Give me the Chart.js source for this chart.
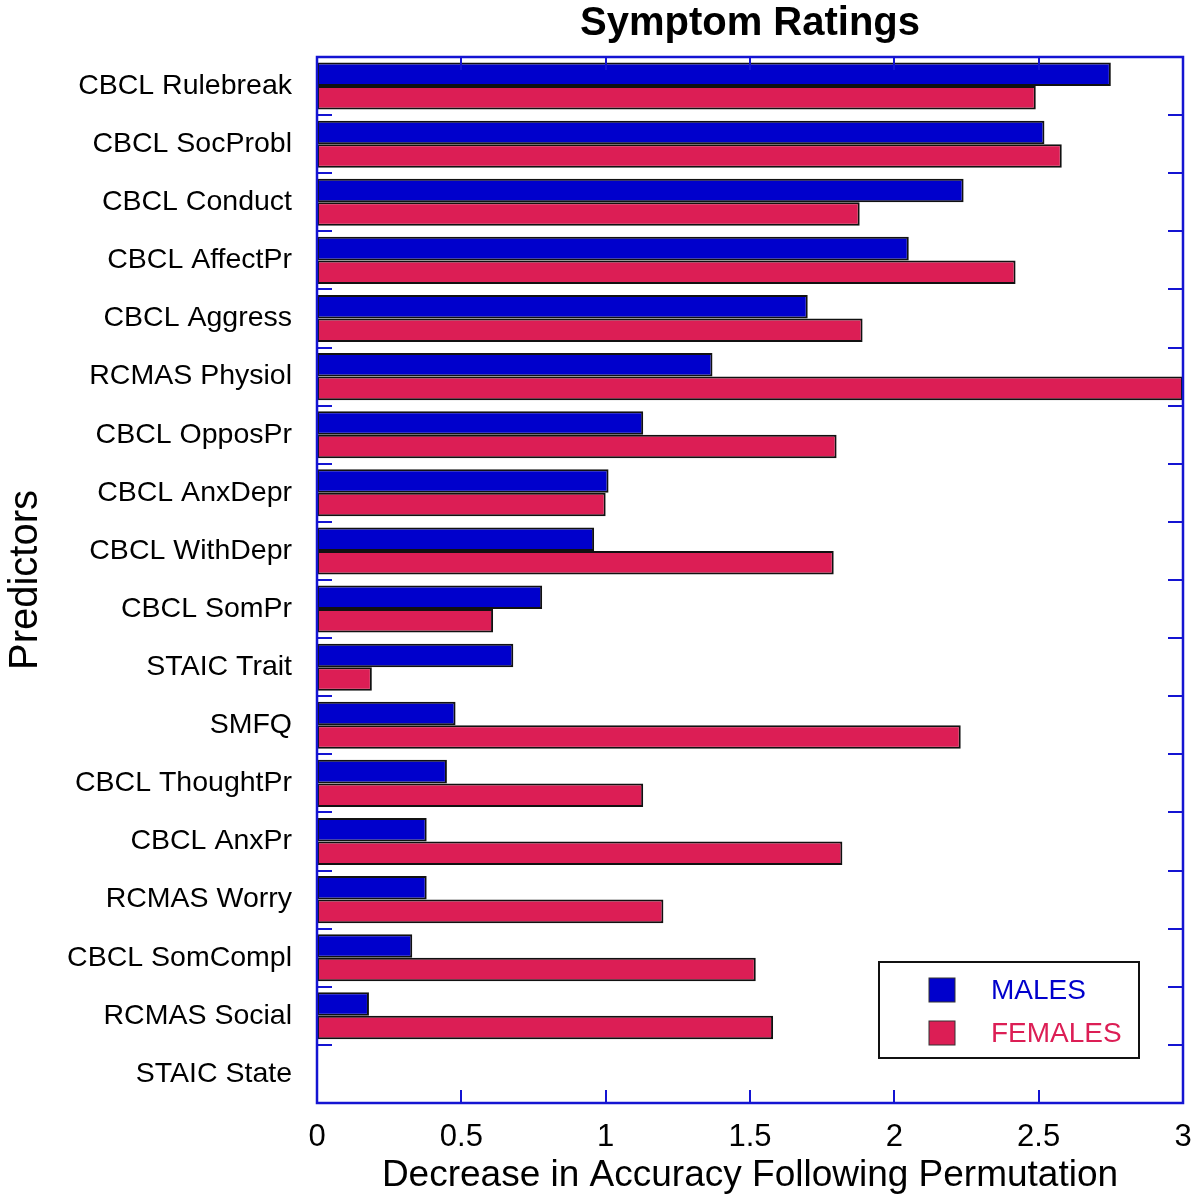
<!DOCTYPE html>
<html>
<head>
<meta charset="utf-8">
<script src="https://cdn.jsdelivr.net/npm/chart.js@4.4.1/dist/chart.umd.min.js"></script>
<style>
  html, body { margin: 0; padding: 0; background: #fff; }
  #wrap { width: 1200px; height: 1200px; }
</style>
</head>
<body>
<div id="wrap"><canvas id="symptomChart" width="1200" height="1200"></canvas></div>
<script>
// predictors, top to bottom
const predictors = [
  'CBCL Rulebreak', 'CBCL SocProbl', 'CBCL Conduct', 'CBCL AffectPr', 'CBCL Aggress',
  'RCMAS Physiol', 'CBCL OpposPr', 'CBCL AnxDepr', 'CBCL WithDepr', 'CBCL SomPr',
  'STAIC Trait', 'SMFQ', 'CBCL ThoughtPr', 'CBCL AnxPr', 'RCMAS Worry',
  'CBCL SomCompl', 'RCMAS Social', 'STAIC State'
];
const males = [2.75, 2.52, 2.24, 2.05, 1.70, 1.37, 1.13, 1.01, 0.96, 0.78,
               0.68, 0.48, 0.45, 0.38, 0.38, 0.33, 0.18, 0];
const females = [2.49, 2.58, 1.88, 2.42, 1.89, 3.0, 1.80, 1.00, 1.79, 0.61,
                 0.19, 2.23, 1.13, 1.82, 1.20, 1.52, 1.58, 0];
const xTickLabels = ['0', '0.5', '1', '1.5', '2', '2.5', '3'];

const axisBlue = '#1414d2';
const maleColor = '#0000cc';
const femaleColor = '#dc1e55';
const fontFam = '"Liberation Sans", Arial, sans-serif';

// frame, inward ticks on all four sides
const framePlugin = {
  id: 'frame',
  afterDatasetsDraw(chart) {
    const ctx = chart.ctx;
    const a = chart.chartArea;
    const xs = chart.scales.x;
    const ys = chart.scales.y;
    ctx.save();
    ctx.strokeStyle = axisBlue;
    ctx.lineWidth = 2.5;
    ctx.strokeRect(a.left, a.top, a.right - a.left, a.bottom - a.top);

    ctx.lineWidth = 2;
    // y ticks at category boundaries
    for (let i = 0; i < predictors.length - 1; i++) {
      let y = Math.round((ys.getPixelForValue(i) + ys.getPixelForValue(i + 1)) / 2);
      ctx.beginPath();
      ctx.moveTo(a.left, y); ctx.lineTo(a.left + 15, y);
      ctx.moveTo(a.right, y); ctx.lineTo(a.right - 15, y);
      ctx.stroke();
    }
    // x ticks
    for (let i = 1; i < xTickLabels.length - 1; i++) {
      let x = Math.round(xs.getPixelForValue(Number(xTickLabels[i])));
      ctx.beginPath();
      ctx.moveTo(x, a.bottom); ctx.lineTo(x, a.bottom - 13);
      ctx.moveTo(x, a.top); ctx.lineTo(x, a.top + 13);
      ctx.stroke();
    }
    ctx.restore();
  }
};

// legend box inside lower right corner of the plot
const legendBoxPlugin = {
  id: 'legendBox',
  afterDraw(chart) {
    const ctx = chart.ctx;
    const a = chart.chartArea;
    const bx = a.right - 304, by = a.bottom - 141, bw = 260, bh = 96;
    ctx.save();
    ctx.fillStyle = '#fff';
    ctx.fillRect(bx, by, bw, bh);
    ctx.strokeStyle = '#111';
    ctx.lineWidth = 2;
    ctx.strokeRect(bx, by, bw, bh);
    ctx.font = '28px ' + fontFam;
    ctx.textBaseline = 'middle';
    chart.data.datasets.forEach(function (ds, i) {
      let cy = by + 28 + i * 43;
      ctx.fillStyle = ds.backgroundColor;
      ctx.fillRect(bx + 50, cy - 12, 26, 24);
      ctx.strokeStyle = '#333';
      ctx.lineWidth = 1;
      ctx.strokeRect(bx + 50, cy - 12, 26, 24);
      ctx.fillStyle = ds.backgroundColor;
      ctx.fillText(ds.label, bx + 112, cy + 1);
    });
    ctx.restore();
  }
};

const ctx = document.getElementById('symptomChart').getContext('2d');
const chart = new Chart(ctx, {
  type: 'bar',
  data: {
    labels: predictors,
    datasets: [
      {
        label: 'MALES',
        data: males,
        backgroundColor: maleColor,
        borderColor: '#111',
        borderWidth: 2,
        borderSkipped: false,
        categoryPercentage: 0.81,
        barPercentage: 1.0
      },
      {
        label: 'FEMALES',
        data: females,
        backgroundColor: femaleColor,
        borderColor: '#111',
        borderWidth: 2,
        borderSkipped: false,
        categoryPercentage: 0.81,
        barPercentage: 1.0
      }
    ]
  },
  options: {
    indexAxis: 'y',
    responsive: false,
    animation: false,
    layout: { padding: { left: 0, right: 17, top: 0, bottom: 0 } },
    plugins: {
      legend: { display: false },
      tooltip: { enabled: false },
      title: {
        display: true,
        text: 'Symptom Ratings',
        fullSize: false,
        color: '#000',
        font: { family: fontFam, size: 40, weight: 'bold' },
        padding: { top: 0, bottom: 9 }
      }
    },
    scales: {
      x: {
        min: 0,
        max: 3,
        grid: { display: false },
        border: { display: false },
        ticks: {
          stepSize: 0.5,
          color: '#000',
          padding: 8,
          maxRotation: 0,
          font: { family: fontFam, size: 31 },
          callback: function (value, index) {
            return xTickLabels[index];
          }
        },
        title: {
          display: true,
          text: 'Decrease in Accuracy Following Permutation',
          color: '#000',
          font: { family: fontFam, size: 37 },
          padding: { top: 0, bottom: 2 }
        },
        afterFit: function (scale) { scale.height = 97; }
      },
      y: {
        grid: { display: false },
        border: { display: false },
        ticks: {
          color: '#000',
          padding: 17,
          autoSkip: false,
          font: { family: fontFam, size: 28.5 }
        },
        title: {
          display: true,
          text: 'Predictors',
          color: '#000',
          font: { family: fontFam, size: 40 },
          padding: { top: 2, bottom: 0 }
        },
        afterFit: function (scale) { scale.width = 317; }
      }
    }
  },
  plugins: [framePlugin, legendBoxPlugin]
});
</script>
</body>
</html>
